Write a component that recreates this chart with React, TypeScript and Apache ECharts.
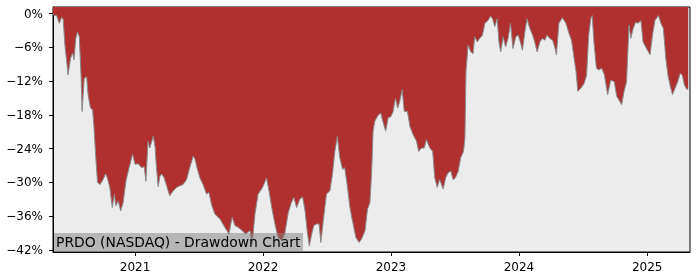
import React, { useEffect, useRef } from 'react';
import * as echarts from 'echarts';

const titleText = 'PRDO (NASDAQ) - Drawdown Chart';
const xStart = '2020-05-12';
const xEnd = '2025-05-03';
const yearTicks = ['2021-01-01', '2022-01-01', '2023-01-01', '2024-01-01', '2025-01-01'];
const yTicks = [-42, -36, -30, -24, -18, -12, -6, 0];
const yMin = -42.4;
const yMax = 1.2;

const dates = [
  '2020-05-12', '2020-05-15', '2020-05-22', '2020-05-30', '2020-06-06', '2020-06-10', '2020-06-15', '2020-06-20',
  '2020-06-24', '2020-07-01', '2020-07-07', '2020-07-11', '2020-07-16', '2020-07-21', '2020-07-26', '2020-07-31',
  '2020-08-03', '2020-08-09', '2020-08-16', '2020-08-20', '2020-08-27', '2020-09-02', '2020-09-06', '2020-09-11',
  '2020-09-16', '2020-09-23', '2020-10-01', '2020-10-09', '2020-10-14', '2020-10-21', '2020-10-28', '2020-11-03',
  '2020-11-07', '2020-11-14', '2020-11-21', '2020-11-28', '2020-12-06', '2020-12-15', '2020-12-25',
  '2021-01-01', '2021-01-10', '2021-01-20', '2021-01-27', '2021-02-01', '2021-02-07', '2021-02-12', '2021-02-22',
  '2021-02-27', '2021-03-03', '2021-03-08', '2021-03-13', '2021-03-18', '2021-03-25', '2021-04-01', '2021-04-10',
  '2021-04-20', '2021-04-30', '2021-05-09', '2021-05-18', '2021-05-28', '2021-06-06', '2021-06-16', '2021-06-21',
  '2021-06-28', '2021-07-05', '2021-07-14', '2021-07-24', '2021-07-31', '2021-08-07', '2021-08-17', '2021-08-31',
  '2021-09-14', '2021-09-26', '2021-10-05', '2021-10-13', '2021-10-22', '2021-11-03', '2021-11-12', '2021-11-25',
  '2021-12-01', '2021-12-09', '2021-12-18', '2021-12-28',
  '2022-01-02', '2022-01-11', '2022-01-19', '2022-01-26', '2022-02-04', '2022-02-13', '2022-02-23', '2022-03-04',
  '2022-03-14', '2022-03-23', '2022-03-30', '2022-04-07', '2022-04-16', '2022-04-24', '2022-05-01', '2022-05-07',
  '2022-05-13', '2022-05-20', '2022-05-26', '2022-06-03', '2022-06-10', '2022-06-15', '2022-06-22', '2022-07-01',
  '2022-07-11', '2022-07-18', '2022-07-25', '2022-08-01', '2022-08-08', '2022-08-16', '2022-08-22', '2022-08-29',
  '2022-09-06', '2022-09-13', '2022-09-23', '2022-10-02', '2022-10-09', '2022-10-19', '2022-10-26', '2022-11-02',
  '2022-11-07', '2022-11-11', '2022-11-16', '2022-11-26', '2022-12-03', '2022-12-10', '2022-12-17', '2022-12-24',
  '2023-01-01', '2023-01-07', '2023-01-14', '2023-01-20', '2023-01-26', '2023-02-02', '2023-02-08', '2023-02-17',
  '2023-02-24', '2023-03-05', '2023-03-15', '2023-03-21', '2023-03-29', '2023-04-06', '2023-04-12', '2023-04-22',
  '2023-04-30', '2023-05-06', '2023-05-13', '2023-05-20', '2023-05-30', '2023-06-06', '2023-06-13', '2023-06-21',
  '2023-06-27', '2023-07-04', '2023-07-12', '2023-07-19', '2023-07-27', '2023-07-31', '2023-08-03', '2023-08-09',
  '2023-08-17', '2023-08-23', '2023-08-28', '2023-09-04', '2023-09-11', '2023-09-19', '2023-09-26', '2023-10-05',
  '2023-10-12', '2023-10-18', '2023-10-24', '2023-10-31', '2023-11-05', '2023-11-10', '2023-11-17', '2023-11-24',
  '2023-12-01', '2023-12-08', '2023-12-15', '2023-12-23', '2023-12-30',
  '2024-01-05', '2024-01-11', '2024-01-18', '2024-01-24', '2024-02-01', '2024-02-09', '2024-02-15', '2024-02-22',
  '2024-03-01', '2024-03-08', '2024-03-15', '2024-03-21', '2024-03-29', '2024-04-06', '2024-04-12', '2024-04-17',
  '2024-04-24', '2024-05-04', '2024-05-14', '2024-05-23', '2024-05-30', '2024-06-05', '2024-06-12', '2024-06-17',
  '2024-06-25', '2024-07-05', '2024-07-12', '2024-07-18', '2024-07-24', '2024-07-28', '2024-08-02', '2024-08-09',
  '2024-08-16', '2024-08-24', '2024-09-01', '2024-09-10', '2024-09-19', '2024-09-29', '2024-10-06', '2024-10-12',
  '2024-10-20', '2024-10-27', '2024-11-03', '2024-11-10', '2024-11-15', '2024-11-22', '2024-11-29', '2024-12-06',
  '2024-12-14', '2024-12-20', '2024-12-30',
  '2025-01-09', '2025-01-16', '2025-01-23', '2025-02-02', '2025-02-09', '2025-02-16', '2025-02-23', '2025-03-01',
  '2025-03-07', '2025-03-14', '2025-03-21', '2025-03-29', '2025-04-05', '2025-04-11', '2025-04-17', '2025-04-24',
  '2025-04-28',
];

const drawdown = [
  0, -0.3, -0.3, -1.7, -0.6, -1.0, -5.6, -8.5,
  -10.9, -7.9, -7.0, -8.2, -4.4, -3.2, -4.1, -10.9,
  -17.4, -11.5, -11.2, -14.4, -16.8, -17.1, -20.3, -25.6,
  -30.0, -30.4, -29.6, -28.5, -29.2, -30.9, -34.5, -32.1,
  -34.2, -33.3, -35.1, -33.6, -29.8, -27.4, -25.0,
  -26.8, -26.7, -27.4, -27.2, -29.8, -22.7, -23.9, -21.8,
  -23.6, -27.3, -30.8, -28.9, -28.5, -29.2, -30.6, -32.4,
  -31.5, -30.9, -30.6, -30.4, -29.5, -27.4, -25.3, -25.9,
  -27.7, -29.2, -30.4, -32.1, -31.8, -33.9, -35.7, -36.5,
  -38.0, -39.2, -36.2, -37.7, -38.0, -38.6, -39.2, -38.6,
  -41.0, -35.7, -32.1, -31.2,
  -30.6, -29.2, -31.8, -34.5, -37.4, -39.8, -40.4, -39.2,
  -35.4, -33.6, -32.7, -34.5, -33.0, -32.6, -35.1, -38.6,
  -41.3, -39.2, -37.7, -37.4, -37.4, -40.7, -36.8, -32.1,
  -31.5, -28.6, -24.5, -21.8, -25.6, -27.7, -27.4, -30.4,
  -34.5, -36.8, -39.8, -40.7, -40.1, -38.6, -34.8, -33.6,
  -28.0, -20.9, -19.1, -18.0, -17.7, -19.4, -20.9, -18.5,
  -18.3, -17.4, -15.0, -16.8, -15.6, -13.5, -17.4, -17.4,
  -20.0, -21.5, -22.7, -24.5, -23.9, -23.9, -22.4, -23.9,
  -24.5, -29.2, -30.9, -29.5, -31.2, -29.2, -28.3, -28.0,
  -29.5, -29.2, -28.0, -25.6, -24.5, -22.1, -10.3, -5.6,
  -6.8, -7.1, -4.1, -5.0, -4.4, -3.8, -1.7, -1.2,
  -0.4, -0.9, -2.3, -0.9, -5.0, -6.8, -4.1, -5.9,
  -4.4, -1.7, -6.2, -4.1, -3.8,
  -5.0, -6.5, -3.2, -0.9, -2.6, -3.8, -5.0, -6.8,
  -5.0, -4.4, -4.7, -3.8, -4.4, -4.7, -5.9, -7.3,
  -1.7, -0.7, -1.7, -3.5, -4.7, -7.3, -10.3, -13.8,
  -13.3, -12.4, -10.9, -3.8, -0.9, -0.3, -5.0, -9.7,
  -10.0, -9.7, -10.9, -14.4, -11.8, -12.1, -14.7, -15.3,
  -16.2, -13.8, -12.1, -2.0, -4.4, -2.6, -1.5, -1.7,
  -1.2, -5.0, -6.2,
  -7.3, -3.8, -1.2, -0.3, -1.7, -2.6, -7.9, -10.9,
  -12.7, -14.4, -13.3, -12.1, -10.6, -10.9, -12.7, -13.5,
  -13.3,
];

const ts = (d: string) => Date.parse(d + 'T00:00:00Z');

export default function App() {
  const ref = useRef<HTMLDivElement>(null);
  useEffect(() => {
    if (!ref.current) return;
    const chart = echarts.init(ref.current, null, { renderer: 'svg' });
    const data = dates.map((d, i) => [ts(d), drawdown[i]]);
    const yearVals = yearTicks.map(ts);
    const font = 'DejaVu Sans';
    chart.setOption({
      animation: false,
      grid: {
        left: 53, right: 10, top: 7, bottom: 28,
        show: true, backgroundColor: '#ececec', borderColor: '#000', borderWidth: 1,
      },
      xAxis: {
        type: 'value',
        min: ts(xStart),
        max: ts(xEnd),
        splitLine: { show: false },
        axisLine: { show: true, onZero: false, lineStyle: { color: '#000', width: 1 } },
        axisTick: { show: true, length: 4, customValues: yearVals, lineStyle: { color: '#000' } },
        axisLabel: {
          customValues: yearVals,
          formatter: (v: number) => String(new Date(v).getUTCFullYear()),
          fontFamily: font, fontSize: 12, color: '#000', margin: 9,
        },
      },
      yAxis: {
        type: 'value',
        min: yMin,
        max: yMax,
        splitLine: { show: false },
        axisLine: { show: true, lineStyle: { color: '#000', width: 1 } },
        axisTick: { show: true, length: 4, customValues: yTicks, lineStyle: { color: '#000' } },
        axisLabel: {
          customValues: yTicks,
          formatter: (v: number) => (v < 0 ? '\u2212' : '') + Math.abs(v) + '%',
          fontFamily: font, fontSize: 12, color: '#000', margin: 10,
        },
      },
      series: [
        {
          type: 'line',
          data,
          symbol: 'none',
          lineStyle: { color: '#8a8a8a', width: 1 },
          areaStyle: { color: '#b03030', opacity: 1, origin: 'end' },
        },
      ],
      graphic: [
        {
          type: 'rect',
          left: 54, top: 233,
          shape: { width: 249, height: 19 },
          style: { fill: 'rgba(128,128,128,0.5)' },
          z: 100,
        },
        {
          type: 'text',
          left: 56, top: 235,
          style: { text: titleText, font: '13.9px "DejaVu Sans"', fill: '#000' },
          z: 101,
        },
      ],
    });
    return () => chart.dispose();
  }, []);
  return <div ref={ref} style={{ position: 'fixed', left: 0, top: 0, width: 700, height: 280 }} />;
}
